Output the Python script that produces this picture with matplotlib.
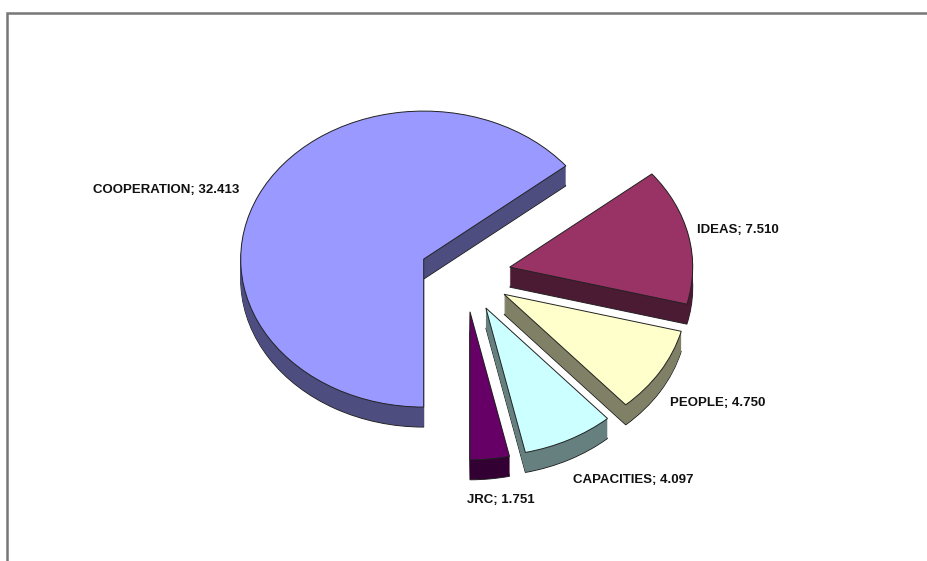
import numpy as np
import matplotlib
matplotlib.use('Agg')
import matplotlib.pyplot as plt
from matplotlib.patches import Rectangle

# programme budgets (mio EUR)
names = ['COOPERATION', 'IDEAS', 'PEOPLE', 'CAPACITIES', 'JRC']
values = [32.413, 7.510, 4.750, 4.097, 1.751]
top_colors = ['#9999FF', '#993366', '#FFFFCC', '#CCFFFF', '#660066']
side_colors = ['#4D4D80', '#4B1A33', '#808066', '#668080', '#330033']

# label anchor (figure pixels, left edge / vertical middle)
label_px = [(93, 190), (697, 230), (670, 403), (573, 480), (467, 500)]

W, H = 928, 561
fig = plt.figure(figsize=(W / 100, H / 100), dpi=100)
ax = fig.add_axes([0, 0, 1, 1])

explode = [0.25] * len(values)
depth = 0.135   # thickness of the disc, in radius units
n_layers = 30

# side walls: stack of darker pies shifted downward
for k in range(n_layers, 0, -1):
    off = -depth * k / n_layers
    edge = '#222222' if k == n_layers else 'none'
    ax.pie(values, explode=explode, colors=side_colors, startangle=270,
           counterclock=False, center=(0, off),
           wedgeprops=dict(edgecolor=edge, linewidth=0.7))

# top faces
ax.pie(values, explode=explode, colors=top_colors, startangle=270,
       counterclock=False, center=(0, 0),
       wedgeprops=dict(edgecolor='#222222', linewidth=0.7))

# stretch the unit pie into an ellipse (rx=183px, ry=148px, centre at 465,275)
cx, cy, rx, ry = 465, 275, 183, 148
ax.set_aspect('auto')
ax.set_xlim(-cx / rx, (W - cx) / rx)
ax.set_ylim((cy - H) / ry, cy / ry)
ax.axis('off')

for name, v, (px, py) in zip(names, values, label_px):
    fig.text(px / W, 1 - py / H, f'{name}; {v:.3f}', ha='left', va='center',
             fontsize=9.5, fontweight='bold', family='Liberation Sans', color='#111111')

# frame of the chart area (cut at right and bottom)
fig.patches.append(Rectangle((7 / W, -0.1), 1.2, 1.1 - 13 / H + 0.0,
                             transform=fig.transFigure, fill=False,
                             edgecolor='#777777', linewidth=1.8))

fig.savefig('out.png', dpi=100)
